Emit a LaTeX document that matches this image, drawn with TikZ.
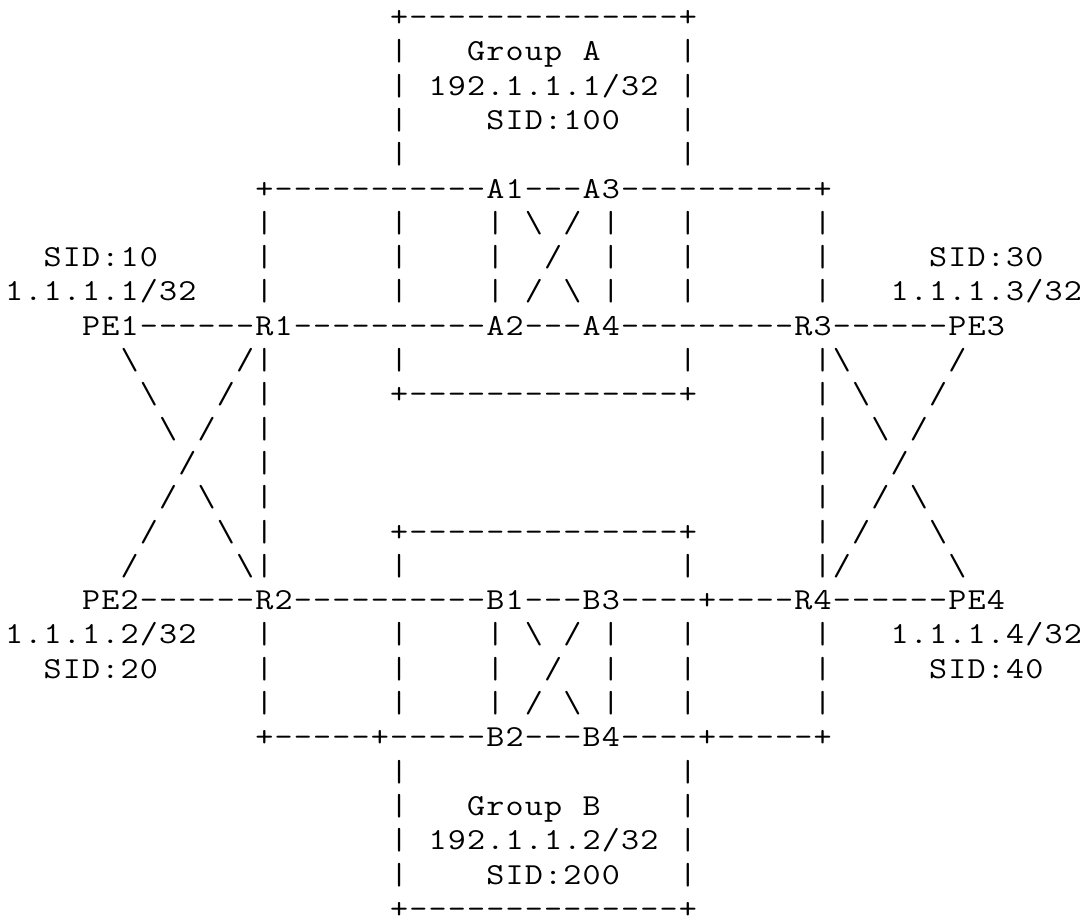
\documentclass[tikz,border=0pt]{standalone}
\usepackage{graphicx}
\newlength\cellw
\setlength\cellw{19.25pt}
\newcommand\asciichar[1]{\hbox to\cellw{\hss\scalebox{1.15}[1]{#1}\hss}}
\makeatletter
\def\ascii#1{\ascii@a#1\relax}
\def\ascii@a#1{\ifx#1\relax\else\ifx#1~\hbox to\cellw{\hss}\else\asciichar{#1}\fi\expandafter\ascii@a\fi}
\makeatother
\newcommand\BS{\textbackslash}
\tikzset{asc/.style={font=\ttfamily\fontsize{30.5}{34.5}\selectfont, inner sep=0pt, outer sep=0pt, anchor=base west, text=black}}
\newcommand\seg[4]{\node[asc] (#1) at ({4.5+#2*19.25},{26.5+(#3-1)*34.3}) {\ascii{#4}};}
\begin{document}
\begin{tikzpicture}[x=1pt,y=-1pt]
\useasboundingbox[fill=white] (0,0) rectangle (1085,922);
% Group A box
\seg{atop}{20}{1}{+--------------+}
\seg{a2l}{20}{2}{|}\seg{grpA}{24}{2}{Group~A}\seg{a2r}{35}{2}{|}
\seg{a3l}{20}{3}{|}\seg{ipA}{22}{3}{192.1.1.1/32}\seg{a3r}{35}{3}{|}
\seg{a4l}{20}{4}{|}\seg{sidA}{25}{4}{SID:100}\seg{a4r}{35}{4}{|}
\seg{a5l}{20}{5}{|}\seg{a5r}{35}{5}{|}
% row 6
\seg{r6a}{13}{6}{+-----------}\seg{A1}{25}{6}{A1}\seg{r6b}{27}{6}{---}\seg{A3}{30}{6}{A3}\seg{r6c}{32}{6}{----------+}
% row 7
\seg{p7a}{13}{7}{|}\seg{p7b}{20}{7}{|}\seg{xA7}{25}{7}{|~\BS~/~|}\seg{p7c}{35}{7}{|}\seg{p7d}{42}{7}{|}
% row 8
\seg{sid10}{2}{8}{SID:10}\seg{p8a}{13}{8}{|}\seg{p8b}{20}{8}{|}\seg{xA8}{25}{8}{|~~/~~|}\seg{p8c}{35}{8}{|}\seg{p8d}{42}{8}{|}\seg{sid30}{48}{8}{SID:30}
% row 9
\seg{ip1}{0}{9}{1.1.1.1/32}\seg{p9a}{13}{9}{|}\seg{p9b}{20}{9}{|}\seg{xA9}{25}{9}{|~/~\BS~|}\seg{p9c}{35}{9}{|}\seg{p9d}{42}{9}{|}\seg{ip3}{46}{9}{1.1.1.3/32}
% row 10
\seg{PE1}{4}{10}{PE1}\seg{d10a}{7}{10}{------}\seg{R1}{13}{10}{R1}\seg{d10b}{15}{10}{----------}\seg{A2}{25}{10}{A2}\seg{d10c}{27}{10}{---}\seg{A4}{30}{10}{A4}\seg{d10d}{32}{10}{---------}\seg{R3}{41}{10}{R3}\seg{d10e}{43}{10}{------}\seg{PE3}{49}{10}{PE3}
% row 11
\seg{l11a}{6}{11}{\BS}\seg{l11b}{12}{11}{/|}\seg{p11a}{20}{11}{|}\seg{p11b}{35}{11}{|}\seg{l11c}{42}{11}{|\BS}\seg{l11d}{49}{11}{/}
% row 12
\seg{l12a}{7}{12}{\BS}\seg{l12b}{11}{12}{/}\seg{p12a}{13}{12}{|}\seg{abot}{20}{12}{+--------------+}\seg{p12b}{42}{12}{|}\seg{l12c}{44}{12}{\BS}\seg{l12d}{48}{12}{/}
% row 13
\seg{l13a}{8}{13}{\BS~/}\seg{p13a}{13}{13}{|}\seg{p13b}{42}{13}{|}\seg{l13b}{45}{13}{\BS~/}
% row 14
\seg{l14a}{9}{14}{/}\seg{p14a}{13}{14}{|}\seg{p14b}{42}{14}{|}\seg{l14b}{46}{14}{/}
% row 15
\seg{l15a}{8}{15}{/~\BS}\seg{p15a}{13}{15}{|}\seg{p15b}{42}{15}{|}\seg{l15b}{45}{15}{/~\BS}
% row 16
\seg{l16a}{7}{16}{/}\seg{l16b}{11}{16}{\BS}\seg{p16a}{13}{16}{|}\seg{btop}{20}{16}{+--------------+}\seg{p16b}{42}{16}{|}\seg{l16c}{44}{16}{/}\seg{l16d}{48}{16}{\BS}
% row 17
\seg{l17a}{6}{17}{/}\seg{l17b}{12}{17}{\BS|}\seg{p17a}{20}{17}{|}\seg{p17b}{35}{17}{|}\seg{l17c}{42}{17}{|/}\seg{l17d}{49}{17}{\BS}
% row 18
\seg{PE2}{4}{18}{PE2}\seg{d18a}{7}{18}{------}\seg{R2}{13}{18}{R2}\seg{d18b}{15}{18}{----------}\seg{B1}{25}{18}{B1}\seg{d18c}{27}{18}{---}\seg{B3}{30}{18}{B3}\seg{d18d}{32}{18}{----+----}\seg{R4}{41}{18}{R4}\seg{d18e}{43}{18}{------}\seg{PE4}{49}{18}{PE4}
% row 19
\seg{ip2}{0}{19}{1.1.1.2/32}\seg{p19a}{13}{19}{|}\seg{p19b}{20}{19}{|}\seg{xB19}{25}{19}{|~\BS~/~|}\seg{p19c}{35}{19}{|}\seg{p19d}{42}{19}{|}\seg{ip4}{46}{19}{1.1.1.4/32}
% row 20
\seg{sid20}{2}{20}{SID:20}\seg{p20a}{13}{20}{|}\seg{p20b}{20}{20}{|}\seg{xB20}{25}{20}{|~~/~~|}\seg{p20c}{35}{20}{|}\seg{p20d}{42}{20}{|}\seg{sid40}{48}{20}{SID:40}
% row 21
\seg{p21a}{13}{21}{|}\seg{p21b}{20}{21}{|}\seg{xB21}{25}{21}{|~/~\BS~|}\seg{p21c}{35}{21}{|}\seg{p21d}{42}{21}{|}
% row 22
\seg{r22a}{13}{22}{+-----+-----}\seg{B2}{25}{22}{B2}\seg{r22b}{27}{22}{---}\seg{B4}{30}{22}{B4}\seg{r22c}{32}{22}{----+-----+}
% Group B box
\seg{b23l}{20}{23}{|}\seg{b23r}{35}{23}{|}
\seg{b24l}{20}{24}{|}\seg{grpB}{24}{24}{Group~B}\seg{b24r}{35}{24}{|}
\seg{b25l}{20}{25}{|}\seg{ipB}{22}{25}{192.1.1.2/32}\seg{b25r}{35}{25}{|}
\seg{b26l}{20}{26}{|}\seg{sidB}{25}{26}{SID:200}\seg{b26r}{35}{26}{|}
\seg{bbot}{20}{27}{+--------------+}
\end{tikzpicture}
\end{document}
